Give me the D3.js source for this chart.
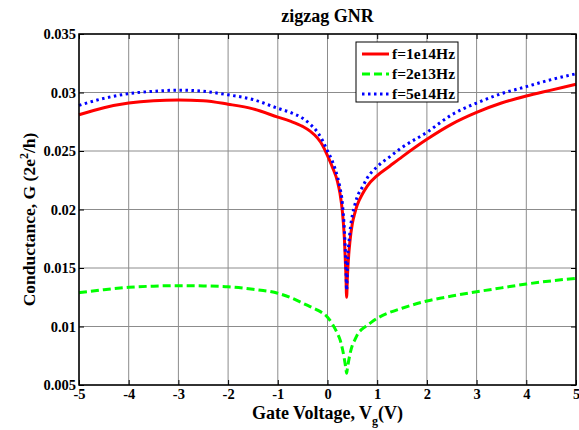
<!DOCTYPE html>
<html>
<head>
<meta charset="utf-8">
<script src="https://cdn.jsdelivr.net/npm/d3@7"></script>
<style>
  body { margin: 0; background: #fff; }
  text { font-family: "Liberation Serif", "Times New Roman", serif; font-weight: bold; fill: #000; }
</style>
</head>
<body>
<div id="chart"></div>
<script>
// gate voltage samples (V)
var gateV = [-5, -4.5, -4, -3.5, -3, -2.5, -2, -1.5, -1, -0.75, -0.5, -0.35, -0.2, -0.1, 0, 0.1, 0.2, 0.25, 0.3,
             0.34, 0.37, 0.385, 0.4, 0.45, 0.5, 0.55, 0.6, 0.7, 0.8, 1, 1.25, 1.5, 2, 2.5, 3, 3.5, 4, 4.5, 5]

// conductance, f = 1e14 Hz
var g1e14 = [0.0281, 0.0287, 0.0291, 0.0293, 0.02936, 0.0293, 0.0290, 0.0286, 0.0279, 0.02755, 0.0271, 0.0267,
             0.0261, 0.0255, 0.0246, 0.0236, 0.0224, 0.0214, 0.0198, 0.0175, 0.0145, 0.0125, 0.0142, 0.0172,
             0.0188, 0.0197, 0.0204, 0.0213, 0.0220, 0.0229, 0.0237, 0.0245, 0.0260, 0.0273, 0.0283, 0.0291,
             0.0297, 0.0302, 0.0307]

// conductance, f = 2e13 Hz
var g2e13 = [0.01289, 0.01315, 0.01335, 0.01345, 0.01349, 0.01347, 0.0134, 0.01318, 0.01284, 0.01248, 0.0120,
             0.0117, 0.0114, 0.01115, 0.0108, 0.0102, 0.0094, 0.0089, 0.0081, 0.0072, 0.0064, 0.0060, 0.0064,
             0.0076, 0.0084, 0.00885, 0.0093, 0.0098, 0.0101, 0.0107, 0.0112, 0.01156, 0.01218, 0.0126,
             0.01297, 0.0133, 0.01363, 0.0139, 0.01412]

// conductance, f = 5e14 Hz
var g5e14 = [0.0289, 0.0295, 0.0299, 0.0301, 0.0302, 0.0301, 0.0298, 0.0294, 0.02865, 0.0283, 0.0278, 0.0273,
             0.0266, 0.0259, 0.0250, 0.0241, 0.0228, 0.0219, 0.0205, 0.0182, 0.0152, 0.0131, 0.0150, 0.0180,
             0.0195, 0.0204, 0.0211, 0.0219, 0.0227, 0.02366, 0.0245, 0.0253, 0.0266, 0.0281, 0.0291, 0.0299,
             0.0305, 0.0311, 0.0316]

var xTicks = [-5, -4, -3, -2, -1, 0, 1, 2, 3, 4, 5]
var yTicks = [0.005, 0.01, 0.015, 0.02, 0.025, 0.03, 0.035]
var yTickLabels = ['0.005', '0.01', '0.015', '0.02', '0.025', '0.03', '0.035']

var seriesNames = ['f=1e14Hz', 'f=2e13Hz', 'f=5e14Hz']

var width = 579,
    height = 430,
    margins = {top: 34, right: 3, bottom: 45, left: 79},
    plotW = width - margins.left - margins.right,
    plotH = height - margins.top - margins.bottom

var styles = [
    {stroke: '#ff0000', dash: null},
    {stroke: '#00ff00', dash: '8,4'},
    {stroke: '#0000ff', dash: '2.5,3.5'}
]

var svg = d3.select('#chart').append('svg')
    .attr('width', width)
    .attr('height', height)

var g = svg.append('g')
    .attr('transform', 'translate(' + margins.left + ',' + margins.top + ')')

var x = d3.scaleLinear().domain([-5, 5]).range([0, plotW])
var y = d3.scaleLinear().domain([0.005, 0.035]).range([plotH, 0])

// grid
g.selectAll('.vgrid').data(xTicks).enter().append('line')
    .attr('x1', d => x(d)).attr('x2', d => x(d))
    .attr('y1', 0).attr('y2', plotH)
    .attr('stroke', '#8c8c8c').attr('stroke-width', 1)

g.selectAll('.hgrid').data(yTicks).enter().append('line')
    .attr('y1', d => y(d)).attr('y2', d => y(d))
    .attr('x1', 0).attr('x2', plotW)
    .attr('stroke', '#8c8c8c').attr('stroke-width', 1)

// curves
var line = d3.line()
    .x(d => x(d[0]))
    .y(d => y(d[1]))
    .curve(d3.curveMonotoneX)

;[g1e14, g2e13, g5e14].forEach(function(vals, i) {
    g.append('path')
        .datum(gateV.map((v, j) => [v, vals[j]]))
        .attr('fill', 'none')
        .attr('stroke', styles[i].stroke)
        .attr('stroke-width', 3)
        .attr('stroke-dasharray', styles[i].dash)
        .attr('d', line)
})

// axes (ticks point inward, matlab style)
var xAxis = d3.axisBottom(x).tickValues(xTicks).tickSizeInner(-5).tickSizeOuter(0)
    .tickFormat(d => String(d))
var yAxis = d3.axisLeft(y).tickValues(yTicks).tickSizeInner(-5).tickSizeOuter(0)
    .tickFormat((d, i) => yTickLabels[i])

var gx = g.append('g').attr('transform', 'translate(0,' + plotH + ')').call(xAxis)
var gy = g.append('g').call(yAxis)
g.append('g').call(d3.axisTop(x).tickValues(xTicks).tickSizeInner(-5).tickSizeOuter(0).tickFormat(''))
g.append('g').attr('transform', 'translate(' + plotW + ',0)')
    .call(d3.axisRight(y).tickValues(yTicks).tickSizeInner(-5).tickSizeOuter(0).tickFormat(''))

svg.selectAll('.domain').remove()
svg.selectAll('.tick line').attr('stroke', '#000')

gx.selectAll('text')
    .attr('y', 4)
    .style('font-size', '14.5px')
    .style('font-family', '"Liberation Serif", serif')
    .style('font-weight', 'bold')
gy.selectAll('text')
    .attr('x', -3)
    .style('font-size', '14.5px')
    .style('font-family', '"Liberation Serif", serif')
    .style('font-weight', 'bold')

// frame
g.append('rect')
    .attr('width', plotW).attr('height', plotH)
    .attr('fill', 'none').attr('stroke', '#000').attr('stroke-width', 1.5)

// title and labels
svg.append('text')
    .attr('x', margins.left + plotW / 2).attr('y', 22)
    .attr('text-anchor', 'middle')
    .style('font-size', '18px')
    .text('zigzag GNR')

var xl = svg.append('text')
    .attr('x', margins.left + plotW / 2).attr('y', 419)
    .attr('text-anchor', 'middle')
    .style('font-size', '18px')
xl.append('tspan').text('Gate Voltage, V')
xl.append('tspan').attr('dy', 6).style('font-size', '12px').text('g')
xl.append('tspan').attr('dy', -6).text('(V)')

var yl = svg.append('text')
    .attr('transform', 'translate(35,' + (margins.top + plotH / 2 + 10) + ') rotate(-90)')
    .attr('text-anchor', 'middle')
    .style('font-size', '17.5px')
yl.append('tspan').text('Conductance, G (2e')
yl.append('tspan').attr('dy', -7).style('font-size', '12px').text('2')
yl.append('tspan').attr('dy', 7).text('/h)')

// legend
var lg = svg.append('g').attr('transform', 'translate(356,42)')
lg.append('rect')
    .attr('width', 102).attr('height', 60)
    .attr('fill', '#fff').attr('stroke', '#000').attr('stroke-width', 1)

seriesNames.forEach(function(name, i) {
    var cy = 12 + i * 20
    lg.append('line')
        .attr('x1', 6).attr('x2', 33)
        .attr('y1', cy).attr('y2', cy)
        .attr('stroke', styles[i].stroke)
        .attr('stroke-width', 3)
        .attr('stroke-dasharray', styles[i].dash)
    lg.append('text')
        .attr('x', 36).attr('y', cy + 5)
        .style('font-size', '15.5px')
        .text(name)
})
</script>
</body>
</html>
